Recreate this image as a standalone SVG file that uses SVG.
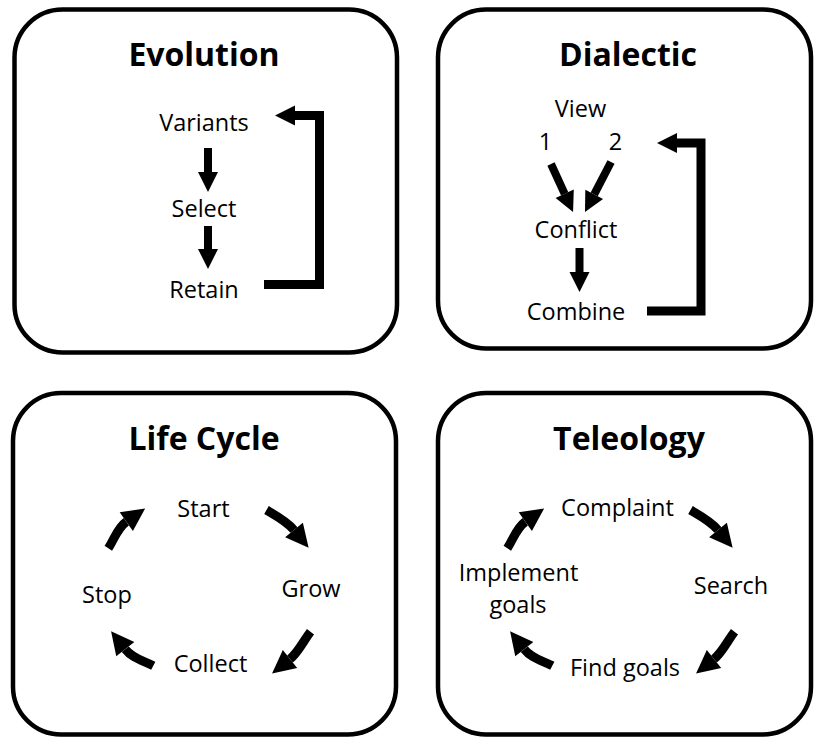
<svg xmlns="http://www.w3.org/2000/svg" width="814" height="739" viewBox="0 0 814 739">
  <style>
    .box { fill: #ffffff; stroke: #000000; stroke-width: 4.5; }
    .title { font-family: "Open Sans", "Liberation Sans", sans-serif; font-weight: bold; font-size: 32px; fill: #000000; text-anchor: middle; }
    .label { font-family: "Open Sans", "Liberation Sans", sans-serif; font-size: 23.5px; fill: #000000; text-anchor: middle; }
    .arrow { fill: none; stroke: #000000; stroke-width: 8; stroke-linejoin: miter; stroke-linecap: butt; }
    .loop { fill: none; stroke: #000000; stroke-width: 9; stroke-linejoin: miter; stroke-linecap: butt; }
    .curve { fill: none; stroke: #000000; stroke-width: 9; stroke-linecap: butt; }
  </style>
  <defs>
    <marker id="head" markerWidth="20" markerHeight="20" refX="0" refY="10" orient="auto" markerUnits="userSpaceOnUse" overflow="visible">
      <path d="M0,0 L20,10 L0,20 Z" fill="#000000"/>
    </marker>
    <marker id="head-curve" markerWidth="23" markerHeight="23" refX="0" refY="11.5" orient="auto" markerUnits="userSpaceOnUse" overflow="visible">
      <path d="M0,0 L23,11.5 L0,23 Z" fill="#000000"/>
    </marker>
    <!-- curved cycle arrows, clockwise: top-right, bottom-right, bottom-left, top-left -->
    <path id="arc-ne" d="M266.5,510 C276,515.6 287,521.5 294,530"/>
    <path id="arc-se" d="M310.5,631.7 C303.7,640.4 298.6,652.1 290,659"/>
    <path id="arc-sw" d="M153.3,665.8 C142.7,660.2 132.7,658.6 125.3,649.2"/>
    <path id="arc-nw" d="M108.3,548.3 C114.4,539.2 117.3,528 126.3,521.7"/>
  </defs>

  <rect width="814" height="739" fill="#ffffff"/>

  <!-- Evolution panel -->
  <g id="evolution">
    <rect class="box" x="14.5" y="9.5" width="382.5" height="343" rx="48" ry="48"/>
    <text class="title" x="204" y="66">Evolution</text>
    <g id="evo-variants"><text class="label" x="204" y="131">Variants</text></g>
    <g id="evo-select"><text class="label" x="204" y="217">Select</text></g>
    <g id="evo-retain"><text class="label" x="204" y="298">Retain</text></g>
  </g>

  <!-- Dialectic panel -->
  <g id="dialectic">
    <rect class="box" x="438" y="9.5" width="373" height="339" rx="48" ry="48"/>
    <text class="title" x="628" y="66">Dialectic</text>
    <g id="dia-view">
      <text class="label" x="580.5" y="117">View</text>
      <text class="label" x="545.5" y="150">1</text>
      <text class="label" x="615.5" y="150">2</text>
    </g>
    <g id="dia-conflict"><text class="label" x="576" y="238">Conflict</text></g>
    <g id="dia-combine"><text class="label" x="576" y="320">Combine</text></g>
  </g>

  <!-- Life Cycle panel -->
  <g id="lifecycle">
    <rect class="box" x="13" y="393" width="383" height="341.5" rx="48" ry="48"/>
    <text class="title" x="204" y="450">Life Cycle</text>
    <g id="lc-start"><text class="label" x="203.5" y="516.5">Start</text></g>
    <g id="lc-grow"><text class="label" x="311" y="596.5">Grow</text></g>
    <g id="lc-collect"><text class="label" x="210.5" y="672">Collect</text></g>
    <g id="lc-stop"><text class="label" x="107" y="603">Stop</text></g>
  </g>

  <!-- Teleology panel -->
  <g id="teleology">
    <rect class="box" x="438" y="393" width="373" height="341.5" rx="48" ry="48"/>
    <text class="title" x="629" y="450">Teleology</text>
    <g id="tel-complaint"><text class="label" x="617.5" y="516">Complaint</text></g>
    <g id="tel-search"><text class="label" x="731" y="594">Search</text></g>
    <g id="tel-find"><text class="label" x="625" y="675.5">Find goals</text></g>
    <g id="tel-implement">
      <text class="label" x="518.5" y="580.5">Implement</text>
      <text class="label" x="518" y="612.5">goals</text>
    </g>
  </g>

  <!-- Connectors -->
  <g id="connectors">
    <!-- Evolution -->
    <path class="arrow" d="M208,148 V172" marker-end="url(#head)"/>
    <path class="arrow" d="M208,226 V249" marker-end="url(#head)"/>
    <path class="loop" d="M264,284.5 H319.5 V115.5 H295" marker-end="url(#head)"/>
    <!-- Dialectic -->
    <path class="arrow" d="M551,164 L564.7,193.8" marker-end="url(#head)"/>
    <path class="arrow" d="M611,162 L594.2,194.3" marker-end="url(#head)"/>
    <path class="arrow" d="M579.5,248 V272" marker-end="url(#head)"/>
    <path class="loop" d="M647,311 H701 V143 H677" marker-end="url(#head)"/>
    <!-- Life Cycle -->
    <use href="#arc-ne" class="curve" marker-end="url(#head-curve)"/>
    <use href="#arc-se" class="curve" marker-end="url(#head-curve)"/>
    <use href="#arc-sw" class="curve" marker-end="url(#head-curve)"/>
    <use href="#arc-nw" class="curve" marker-end="url(#head-curve)"/>
    <!-- Teleology: same arcs, right pair moved further out -->
    <use href="#arc-ne" class="curve" marker-end="url(#head-curve)" transform="translate(424,0)"/>
    <use href="#arc-se" class="curve" marker-end="url(#head-curve)" transform="translate(424,0)"/>
    <use href="#arc-sw" class="curve" marker-end="url(#head-curve)" transform="translate(399,0)"/>
    <use href="#arc-nw" class="curve" marker-end="url(#head-curve)" transform="translate(399,0)"/>
  </g>
</svg>
